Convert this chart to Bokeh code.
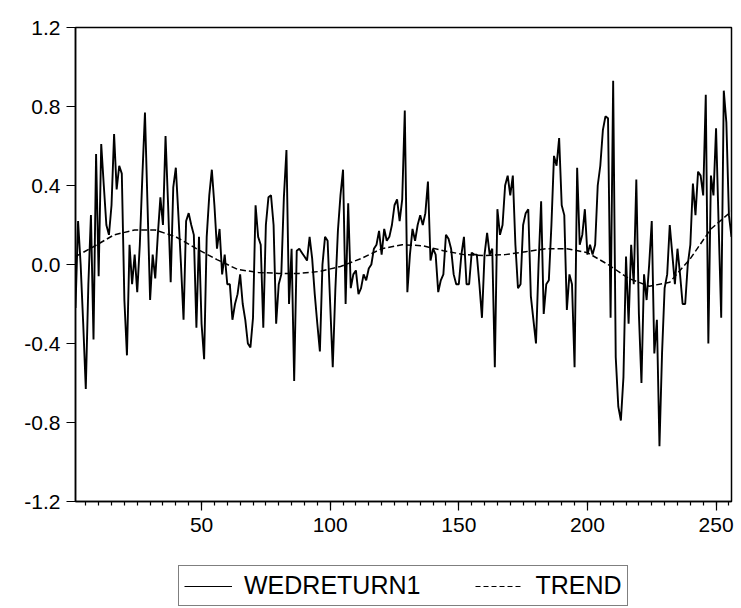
from bokeh.plotting import figure
from bokeh.layouts import column
from bokeh.models import (Range1d, SingleIntervalTicker, FixedTicker,
                          PrintfTickFormatter, Legend, LegendItem)
from bokeh.embed import file_html
from bokeh.resources import INLINE

# ---- data ----
wedreturn1 = [
    -0.22, 0.22, 0.00, -0.30, -0.63, -0.10, 0.25, -0.38, 0.56, -0.06,
    0.61, 0.40, 0.20, 0.15, 0.30, 0.66, 0.38, 0.50, 0.46, -0.18,
    -0.46, 0.10, -0.10, 0.05, -0.14, 0.10, 0.45, 0.77, 0.30, -0.18,
    0.05, -0.07, 0.15, 0.34, 0.20, 0.65, 0.30, -0.09, 0.39, 0.49,
    0.25, 0.00, -0.28, 0.22, 0.26, 0.20, 0.15, -0.32, 0.14, -0.30,
    -0.48, 0.14, 0.35, 0.48, 0.30, 0.08, 0.18, -0.05, 0.05, -0.10,
    -0.10, -0.28, -0.20, -0.15, -0.05, -0.20, -0.28, -0.40, -0.42, -0.27,
    0.30, 0.14, 0.10, -0.32, 0.20, 0.34, 0.35, 0.20, -0.30, -0.10,
    -0.05, 0.34, 0.58, -0.20, 0.08, -0.59, 0.07, 0.08, 0.06, 0.04,
    0.02, 0.14, 0.03, -0.15, -0.30, -0.44, 0.00, 0.14, 0.12, -0.20,
    -0.52, -0.13, 0.17, 0.35, 0.48, -0.20, 0.31, -0.12, -0.05, -0.03,
    -0.15, -0.12, -0.05, -0.08, -0.02, 0.00, 0.08, 0.10, 0.17, 0.05,
    0.18, 0.12, 0.14, 0.20, 0.30, 0.33, 0.22, 0.33, 0.78, -0.14,
    0.05, 0.18, 0.12, 0.20, 0.25, 0.20, 0.26, 0.42, 0.02, 0.08,
    0.05, -0.14, -0.08, -0.05, 0.15, 0.13, 0.08, -0.05, -0.10, -0.10,
    0.05, 0.14, -0.10, -0.10, 0.06, 0.05, 0.05, -0.10, -0.27, 0.05,
    0.16, 0.05, 0.08, -0.52, 0.28, 0.15, 0.20, 0.40, 0.45, 0.35,
    0.45, 0.10, -0.12, -0.10, 0.20, 0.26, 0.28, -0.16, -0.28, -0.40,
    0.00, 0.32, -0.25, -0.10, -0.08, 0.20, 0.55, 0.50, 0.64, 0.30,
    0.25, -0.23, -0.05, -0.10, -0.52, 0.49, 0.10, 0.15, 0.28, 0.05,
    0.10, 0.05, 0.10, 0.40, 0.50, 0.68, 0.75, 0.74, -0.27, 0.93,
    -0.47, -0.72, -0.79, -0.57, 0.04, -0.30, 0.10, -0.10, 0.43, -0.25,
    -0.60, -0.05, -0.18, 0.00, 0.22, -0.45, -0.28, -0.92, -0.45, -0.12,
    -0.05, 0.20, 0.05, -0.10, 0.08, -0.05, -0.20, -0.20, 0.00, 0.10,
    0.41, 0.25, 0.47, 0.45, 0.35, 0.86, -0.40, 0.45, 0.35, 0.69,
    0.20, -0.27, 0.88, 0.72, 0.25, 0.14,
]

trend_obs = [1, 8, 16, 24, 32, 40, 48, 56, 64, 72, 80, 88, 96, 104, 112,
             120, 128, 136, 144, 152, 160, 168, 176, 184, 192, 200, 208,
             216, 224, 232, 240, 248, 256]
trend = [0.04, 0.09, 0.15, 0.175, 0.175, 0.14, 0.08, 0.025, -0.025, -0.04,
         -0.045, -0.045, -0.035, -0.01, 0.03, 0.08, 0.10, 0.095, 0.07, 0.05,
         0.045, 0.05, 0.065, 0.08, 0.08, 0.06, 0.0, -0.07, -0.11, -0.09,
         0.03, 0.18, 0.27]

y_ticks = [-1.2, -0.8, -0.4, 0.0, 0.4, 0.8, 1.2]
x_tick_interval = 50
series_labels = ["WEDRETURN1", "TREND"]

obs = list(range(1, len(wedreturn1) + 1))

FONT = "Liberation Sans"
SOLID = dict(line_color="black", line_width=1.9)
DASHED = dict(line_color="black", line_width=1.5, line_dash="6 3")

# ---------------- main plot ----------------
p = figure(width=741, height=545, output_backend="svg", toolbar_location=None,
           x_range=Range1d(obs[0], obs[-1]),
           y_range=Range1d(y_ticks[0], y_ticks[-1]),
           min_border_left=75, min_border_right=10, min_border_top=27,
           min_border_bottom=44)

p.background_fill_color = "white"
p.border_fill_color = "white"
p.outline_line_color = "black"
p.outline_line_width = 1.5
p.xgrid.visible = False
p.ygrid.visible = False

p.line(obs, wedreturn1, **SOLID)
p.line(trend_obs, trend, **DASHED)

xa = p.xaxis[0]
xa.ticker = SingleIntervalTicker(interval=x_tick_interval, num_minor_ticks=10)
xa.axis_line_color = "black"
xa.axis_line_width = 1.5
xa.major_tick_out = 9
xa.major_tick_in = 0
xa.minor_tick_out = 4
xa.minor_tick_in = 0
xa.major_tick_line_color = "black"
xa.minor_tick_line_color = "black"
xa.major_tick_line_width = 1.2
xa.minor_tick_line_width = 1.2
xa.major_label_text_font = FONT
xa.major_label_text_font_size = "21px"
xa.major_label_text_color = "black"
xa.major_label_standoff = 7

ya = p.yaxis[0]
ya.ticker = FixedTicker(ticks=y_ticks)
ya.formatter = PrintfTickFormatter(format="%.1f")
ya.axis_line_color = "black"
ya.axis_line_width = 1.5
ya.major_tick_out = 9
ya.major_tick_in = 0
ya.minor_tick_line_color = None
ya.major_tick_line_color = "black"
ya.major_tick_line_width = 1.2
ya.major_label_text_font = FONT
ya.major_label_text_font_size = "21px"
ya.major_label_text_color = "black"
ya.major_label_standoff = 6

# ---------------- legend strip ----------------
# The strip's ranges keep its copies of the series out of view; they only
# serve as legend glyph sources.
lg = figure(width=741, height=63, output_backend="svg", toolbar_location=None,
            x_range=Range1d(-20, -10), y_range=Range1d(-20, -10),
            x_axis_location=None, y_axis_location=None,
            min_border_left=0, min_border_right=0, min_border_top=0,
            min_border_bottom=0)
lg.outline_line_color = None
lg.xgrid.visible = False
lg.ygrid.visible = False
lg.background_fill_color = "white"
lg.border_fill_color = "white"

k1 = lg.line(obs, wedreturn1, line_color="black", line_width=1.2)
k2 = lg.line(trend_obs, trend, line_color="black", line_width=1.2, line_dash="5 3")

legend = Legend(
    items=[LegendItem(label=series_labels[0], renderers=[k1]),
           LegendItem(label=series_labels[1], renderers=[k2])],
    orientation="horizontal",
    location=(103, 2),
    margin=0,
    padding=5,
    spacing=55,
    glyph_width=48,
    glyph_height=20,
    label_standoff=12,
    label_text_font=FONT,
    label_text_font_size="25px",
    label_text_color="black",
    border_line_color="black",
    border_line_width=1,
    background_fill_color="white",
    background_fill_alpha=1.0,
)
lg.add_layout(legend)

layout = column(p, lg, spacing=0)

open("out.html", "w").write(file_html(layout, INLINE))
